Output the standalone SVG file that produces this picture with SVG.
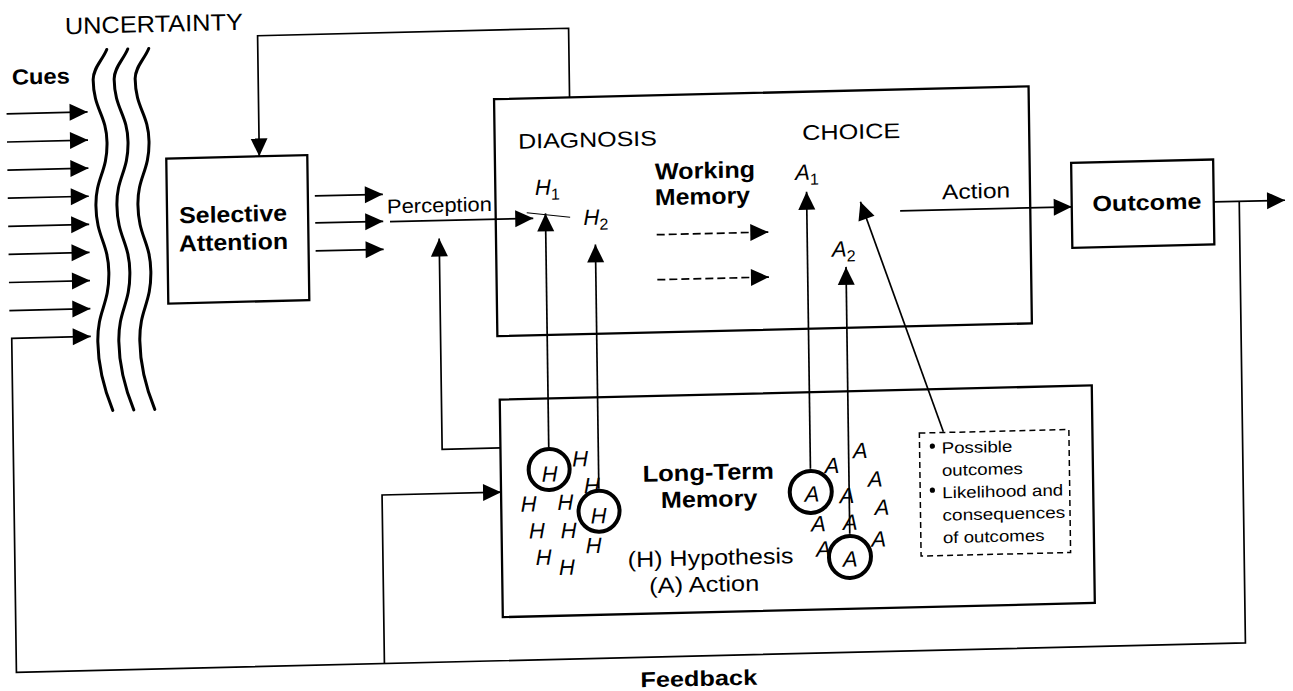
<svg xmlns="http://www.w3.org/2000/svg" width="1293" height="691" viewBox="0 0 1293 691">
  <defs>
    <marker id="ah" markerUnits="userSpaceOnUse" markerWidth="18" markerHeight="17" refX="18" refY="8.5" orient="auto" overflow="visible">
      <path d="M0,0 L18,8.5 L0,17 Z" fill="#000"/>
    </marker>
    <style>
      .box{fill:none;stroke:#000;stroke-width:2.3}
      .ln{fill:none;stroke:#000;stroke-width:1.7}
      .thin{fill:none;stroke:#000;stroke-width:1.1}
      .arr{fill:none;stroke:#000;stroke-width:1.7;marker-end:url(#ah)}
      .dash{stroke-dasharray:8 4}
      .wave{fill:none;stroke:#000;stroke-width:3;stroke-linecap:round}
      .ring{fill:#fff;stroke:#000;stroke-width:4}
      .dbox{fill:none;stroke:#000;stroke-width:1.5;stroke-dasharray:6 4}
      text{font-family:"Liberation Sans",Arial,Helvetica,sans-serif;fill:#000}
      .b{font-weight:bold}
      .i{font-style:italic}
      .sub{font-style:normal;font-size:16px}
      .sym{font-style:italic;font-size:22px;text-anchor:middle}
    </style>
  </defs>

  <rect x="0" y="0" width="1293" height="691" fill="#fff"/>

  <!-- whole drawing is laid out square, then tilted slightly as on the printed page -->
  <g transform="matrix(1,-0.024,0.014,1,0,0)">

    <!-- connectors -->
    <g id="connectors">
      <!-- incoming cues -->
      <line class="arr" x1="5" y1="114" x2="86" y2="114"/>
      <line class="arr" x1="5" y1="142.1" x2="86" y2="142.1"/>
      <line class="arr" x1="5" y1="170.2" x2="86" y2="170.2"/>
      <line class="arr" x1="5" y1="198.3" x2="86" y2="198.3"/>
      <line class="arr" x1="5" y1="226.4" x2="86" y2="226.4"/>
      <line class="arr" x1="5" y1="254.5" x2="86" y2="254.5"/>
      <line class="arr" x1="5" y1="282.6" x2="86" y2="282.6"/>
      <line class="arr" x1="5" y1="310.7" x2="86" y2="310.7"/>

      <!-- outcome output and feedback loop back to the cues -->
      <path class="arr" d="M1210.5,231 H1281.8"/>
      <path class="arr" d="M1236,231 V672.5 H7 V338.5 H86"/>
      <!-- feedback branch into long-term memory -->
      <path class="arr" d="M375,672.5 V504 H494"/>

      <!-- diagnosis back to selective attention -->
      <path class="arr" d="M568,111 V41.9 H257 V162.5"/>

      <!-- selective attention to perception -->
      <line class="arr" x1="312" y1="203.4" x2="380" y2="203.4"/>
      <line class="arr" x1="312" y1="230.4" x2="380" y2="230.4"/>
      <line class="arr" x1="312" y1="258.4" x2="380" y2="258.4"/>

      <!-- perception into diagnosis -->
      <path class="arr" d="M386.8,231 H530"/>
      <!-- long-term memory up to perception -->
      <path class="arr" d="M494,459.8 H435.7 V248.9"/>

      <!-- link between hypotheses -->
      <path class="thin" d="M523.6,225.3 L566.9,230.9"/>

      <!-- hypotheses retrieved from memory -->
      <path class="arr" d="M542.3,460 V226.4"/>
      <path class="arr" d="M591.8,503 V258.6"/>

      <!-- working memory flow -->
      <path class="arr dash" d="M653.2,250.4 H764.8"/>
      <path class="arr dash" d="M653.2,295.4 H764.8"/>

      <!-- actions retrieved from memory -->
      <path class="arr" d="M803.6,488 V211"/>
      <path class="arr" d="M842,554 V287.1"/>

      <!-- outcome knowledge into choice -->
      <path class="arr" d="M937,454.3 L857.3,222.3"/>

      <!-- action to outcome -->
      <path class="arr" d="M896.9,232.5 H1068.5"/>
    </g>

    <!-- uncertainty barrier -->
    <g id="uncertainty">
      <text x="64.5" y="35.7" font-size="23.5" textLength="178" lengthAdjust="spacingAndGlyphs">UNCERTAINTY</text>
      <path class="wave" d="M106,52 C102,62 92,70 92,82 C92,112 105,117 105,145 C105,175 93,180 93,208 C93,240 105,245 105,275 C105,308 93,312 93,344 C93,372 100,395 107,413"/>
      <path class="wave" transform="translate(21,0)" d="M106,52 C102,62 92,70 92,82 C92,112 105,117 105,145 C105,175 93,180 93,208 C93,240 105,245 105,275 C105,308 93,312 93,344 C93,372 100,395 107,413"/>
      <path class="wave" transform="translate(42,0)" d="M106,52 C102,62 92,70 92,82 C92,112 105,117 105,145 C105,175 93,180 93,208 C93,240 105,245 105,275 C105,308 93,312 93,344 C93,372 100,395 107,413"/>
    </g>

    <g id="cues">
      <text class="b" x="10.8" y="85" font-size="22" textLength="58" lengthAdjust="spacingAndGlyphs">Cues</text>
    </g>

    <g id="selective-attention">
      <rect class="box" x="164" y="162.5" width="141" height="145"/>
      <text class="b" x="230" y="227.6" font-size="23" text-anchor="middle" textLength="108" lengthAdjust="spacingAndGlyphs">Selective</text>
      <text class="b" x="230" y="255.6" font-size="23" text-anchor="middle" textLength="109" lengthAdjust="spacingAndGlyphs">Attention</text>
    </g>

    <g id="perception">
      <text x="383.9" y="222.6" font-size="20" textLength="105" lengthAdjust="spacingAndGlyphs">Perception</text>
    </g>

    <g id="diagnosis-choice">
      <rect class="box" x="492.5" y="111" width="534.5" height="237"/>
      <text x="516" y="161.1" font-size="21" textLength="138.7" lengthAdjust="spacingAndGlyphs">DIAGNOSIS</text>
      <text x="800.1" y="159.3" font-size="21" textLength="98" lengthAdjust="spacingAndGlyphs">CHOICE</text>
      <text class="b" x="652.4" y="195.2" font-size="23" textLength="100" lengthAdjust="spacingAndGlyphs">Working</text>
      <text class="b" x="652" y="220.9" font-size="23" textLength="95" lengthAdjust="spacingAndGlyphs">Memory</text>
      <text class="i" x="532.2" y="207.8" font-size="22">H<tspan class="sub" dy="5">1</tspan></text>
      <text class="i" x="580.1" y="239" font-size="22">H<tspan class="sub" dy="5">2</tspan></text>
      <text class="i" x="792.5" y="199.1" font-size="22">A<tspan class="sub" dy="5">1</tspan></text>
      <text class="i" x="828.1" y="276.7" font-size="22">A<tspan class="sub" dy="5">2</tspan></text>
      <text x="938.9" y="221.7" font-size="21" textLength="68.3" lengthAdjust="spacingAndGlyphs">Action</text>
    </g>

    <g id="outcome">
      <rect class="box" x="1068.5" y="188.5" width="142" height="85"/>
      <text class="b" x="1143.7" y="237.5" font-size="22" text-anchor="middle" textLength="109" lengthAdjust="spacingAndGlyphs">Outcome</text>
    </g>

    <g id="long-term-memory">
      <rect class="box" x="494" y="411.5" width="592" height="217.5"/>
      <text class="b" x="701.4" y="497" font-size="23" text-anchor="middle" textLength="131.3" lengthAdjust="spacingAndGlyphs">Long-Term</text>
      <text class="b" x="701.9" y="523.7" font-size="23" text-anchor="middle" textLength="96.3" lengthAdjust="spacingAndGlyphs">Memory</text>
      <text x="619.7" y="582" font-size="22" textLength="165.7" lengthAdjust="spacingAndGlyphs">(H) Hypothesis</text>
      <text x="640.8" y="608.6" font-size="22" textLength="110" lengthAdjust="spacingAndGlyphs">(A) Action</text>

      <!-- stored hypotheses -->
      <g id="hypotheses">
        <text class="sym" x="573.6" y="480.2">H</text>
        <text class="sym" x="521.3" y="524">H</text>
        <text class="sym" x="558" y="523.3">H</text>
        <text class="sym" x="584.9" y="507.2">H</text>
        <text class="sym" x="529.3" y="550.9">H</text>
        <text class="sym" x="560.9" y="551.6">H</text>
        <text class="sym" x="585.7" y="567.2">H</text>
        <text class="sym" x="535.5" y="577.7">H</text>
        <text class="sym" x="558.8" y="588.3">H</text>
        <circle class="ring" cx="542.4" cy="482.5" r="20.5"/>
        <text class="sym" x="542.7" y="494.5">H</text>
        <circle class="ring" cx="591.7" cy="525.4" r="20.5"/>
        <text class="sym" x="591.1" y="537.4">H</text>
      </g>

      <!-- stored actions -->
      <g id="actions">
        <text class="sym" x="853.7" y="478.6">A</text>
        <text class="sym" x="825.2" y="493">A</text>
        <text class="sym" x="868.3" y="507.3">A</text>
        <text class="sym" x="839.8" y="523.3">A</text>
        <text class="sym" x="874.6" y="535.9">A</text>
        <text class="sym" x="811" y="550.9">A</text>
        <text class="sym" x="842.7" y="550.1">A</text>
        <text class="sym" x="870.8" y="567.4">A</text>
        <text class="sym" x="815.6" y="576.1">A</text>
        <circle class="ring" cx="803.6" cy="511.2" r="21"/>
        <text class="sym" x="804.8" y="520.8">A</text>
        <circle class="ring" cx="841.9" cy="577.1" r="21"/>
        <text class="sym" x="842.2" y="586.7">A</text>
      </g>

      <!-- outcome knowledge -->
      <g id="outcome-knowledge">
        <rect class="dbox" x="913" y="455" width="149.5" height="123"/>
        <circle cx="925.8" cy="468.4" r="2.6" fill="#000"/>
        <circle cx="925.2" cy="512.4" r="2.6" fill="#000"/>
        <text x="935" y="476" font-size="16" textLength="70.7" lengthAdjust="spacingAndGlyphs">Possible</text>
        <text x="935" y="498.4" font-size="16" textLength="81" lengthAdjust="spacingAndGlyphs">outcomes</text>
        <text x="935" y="520.8" font-size="16" textLength="121" lengthAdjust="spacingAndGlyphs">Likelihood and</text>
        <text x="935" y="543.2" font-size="16" textLength="122.7" lengthAdjust="spacingAndGlyphs">consequences</text>
        <text x="935" y="565.6" font-size="16" textLength="101.7" lengthAdjust="spacingAndGlyphs">of outcomes</text>
      </g>
    </g>

    <g id="feedback">
      <text class="b" x="630.7" y="702.5" font-size="21.5" textLength="116.7" lengthAdjust="spacingAndGlyphs">Feedback</text>
    </g>
  </g>
</svg>
